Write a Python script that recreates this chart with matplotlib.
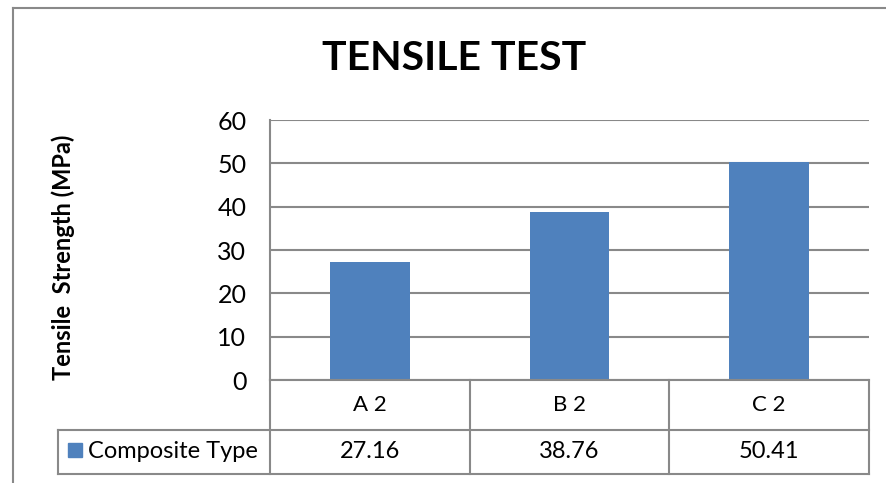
import matplotlib
matplotlib.use("Agg")
import matplotlib.pyplot as plt
from matplotlib.lines import Line2D
from matplotlib.patches import Rectangle

# Данные
categories = ["A 2", "B 2", "C 2"]
strength = [27.16, 38.76, 50.41]
series_name = "Composite Type"
y_ticks = [0, 10, 20, 30, 40, 50, 60]

BAR_COLOR = "#4F81BD"
LINE_COLOR = "#898989"
W, H = 886, 483

plt.rcParams["font.family"] = ["Lato", "DejaVu Sans"]

fig = plt.figure(figsize=(W / 100, H / 100), dpi=100)


def fx(px):
    return px / W


def fy(py):
    return 1 - py / H


# Рамка диаграммы (видны только левый и верхний края)
fig.add_artist(Line2D([fx(13), fx(13)], [fy(8), 0], color=LINE_COLOR, lw=1.5))
fig.add_artist(Line2D([fx(13), 1], [fy(8), fy(8)], color=LINE_COLOR, lw=1.5))

ax_left, ax_right, ax_top, ax_bottom = 270, 869, 120, 380
ax = fig.add_axes([fx(ax_left), fy(ax_bottom), fx(ax_right - ax_left), (ax_bottom - ax_top) / H])

x = list(range(len(categories)))
ax.bar(x, strength, width=0.4, color=BAR_COLOR, zorder=3)
ax.set_xlim(-0.5, len(categories) - 0.5)
ax.set_ylim(0, 60)
ax.set_yticks(y_ticks)
ax.set_xticks([])
ax.yaxis.grid(True, color=LINE_COLOR, lw=1.5, zorder=0)
for s in ["top", "right", "bottom"]:
    ax.spines[s].set_visible(False)
ax.spines["left"].set_color(LINE_COLOR)
ax.spines["left"].set_linewidth(1.5)
ax.tick_params(axis="y", length=0, pad=17, labelsize=18)

# Таблица данных под осью
row1 = 430
row2 = 474
fig.add_artist(Line2D([fx(ax_left), fx(ax_right)], [fy(ax_bottom)] * 2, color=LINE_COLOR, lw=1.5))
for yy in [row1, row2]:
    fig.add_artist(Line2D([fx(58), fx(ax_right)], [fy(yy)] * 2, color=LINE_COLOR, lw=1.5))
fig.add_artist(Line2D([fx(58), fx(58)], [fy(row1), fy(row2)], color=LINE_COLOR, lw=1.5))
fig.add_artist(Line2D([fx(ax_left), fx(ax_left)], [fy(ax_bottom), fy(row2)], color=LINE_COLOR, lw=1.5))
col_w = (ax_right - ax_left) / len(categories)
for i in range(1, len(categories) + 1):
    xx = ax_left + i * col_w
    fig.add_artist(Line2D([fx(xx), fx(xx)], [fy(ax_bottom), fy(row2)], color=LINE_COLOR, lw=1.5))

for i, (cat, val) in enumerate(zip(categories, strength)):
    cx = ax_left + (i + 0.5) * col_w
    fig.text(fx(cx), fy((ax_bottom + row1) / 2), cat, ha="center", va="center", fontsize=16)
    fig.text(fx(cx), fy((row1 + row2) / 2), f"{val:.2f}", ha="center", va="center", fontsize=17)

# Легенда в таблице
fig.add_artist(Rectangle((fx(68), fy(457)), fx(14), 14 / H, color=BAR_COLOR))
fig.text(fx(88), fy(451), series_name, ha="left", va="center", fontsize=17)

# Заголовок и подпись оси
fig.text(fx(454), fy(59), "TENSILE TEST", ha="center", va="center", fontsize=29.5, fontweight="bold")
fig.text(fx(63), fy(257), "Tensile  Strength (MPa)", ha="center", va="center",
         rotation=90, fontsize=17, fontweight="bold")

fig.savefig("out.png", dpi=100)
